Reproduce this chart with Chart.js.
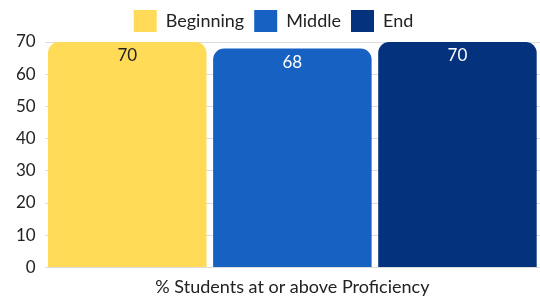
<!DOCTYPE html>
<html>
<head>
<meta charset="utf-8">
<script src="https://cdn.jsdelivr.net/npm/chart.js"></script>
<style>
  html, body { margin: 0; padding: 0; background: #fff; }
  #wrap { width: 540px; height: 299px; }
</style>
</head>
<body>
<div id="wrap"><canvas id="chart"></canvas></div>
<script>
// dados
var categories = ['% Students at or above Proficiency'];
var series_names = ['Beginning', 'Middle', 'End'];
var series_values = [[70], [68], [70]];
var series_colors = ['#FFDB58', '#1661C1', '#05327C'];
var label_colors = ['#222222', '#ffffff', '#ffffff'];
var y_ticks = [0, 10, 20, 30, 40, 50, 60, 70];

var font_family = "Lato, 'DejaVu Sans', sans-serif";

var datasets = [];
for (var i = 0; i < series_names.length; i++) {
  datasets.push({
    label: series_names[i],
    data: series_values[i],
    backgroundColor: series_colors[i],
    borderRadius: { topLeft: 11, topRight: 11 },
    borderSkipped: 'bottom',
    barPercentage: 0.96,
    categoryPercentage: 1.0
  });
}

// rótulos de valor dentro das barras
var valueLabels = {
  id: 'valueLabels',
  afterDatasetsDraw: function(chart) {
    var ctx = chart.ctx;
    ctx.save();
    ctx.font = '17px ' + font_family;
    ctx.textAlign = 'center';
    ctx.textBaseline = 'middle';
    chart.data.datasets.forEach(function(ds, di) {
      chart.getDatasetMeta(di).data.forEach(function(bar, j) {
        ctx.fillStyle = label_colors[di];
        ctx.fillText(ds.data[j], bar.x, bar.y + 14);
      });
    });
    ctx.restore();
  }
};

new Chart(document.getElementById('chart'), {
  type: 'bar',
  data: { labels: categories, datasets: datasets },
  plugins: [valueLabels],
  options: {
    responsive: true,
    maintainAspectRatio: false,
    animation: false,
    layout: { padding: { left: 7, right: 0, top: 0, bottom: 0 } },
    plugins: {
      legend: {
        position: 'top',
        labels: {
          boxWidth: 23,
          boxHeight: 22,
          padding: 10,
          color: '#222',
          font: { family: font_family, size: 18 }
        }
      },
      tooltip: { enabled: false }
    },
    scales: {
      x: {
        grid: { display: false },
        border: { display: false },
        ticks: { color: '#222', font: { family: font_family, size: 18 }, padding: 1 }
      },
      y: {
        min: 0,
        max: 70,
        afterBuildTicks: function(axis) {
          axis.ticks = y_ticks.map(function(v) { return { value: v }; });
        },
        grid: { color: '#dcdcdc', drawTicks: false },
        border: { display: false },
        ticks: { color: '#222', font: { family: font_family, size: 17 }, padding: 9 }
      }
    }
  }
});
</script>
</body>
</html>
